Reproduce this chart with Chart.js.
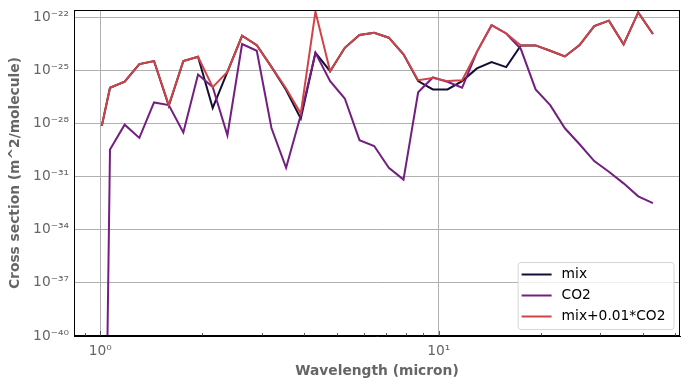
<!DOCTYPE html>
<html>
<head>
<meta charset="utf-8">
<script src="https://cdn.jsdelivr.net/npm/chart.js@4"></script>
<style>
  html, body { margin: 0; padding: 0; background: #fff; }
  canvas { display: block; }
</style>
</head>
<body>
<canvas id="chart1" width="690" height="389"></canvas>
<script>
// wavelength grid (micron)
const wavelength = [1.01, 1.068, 1.180, 1.304, 1.441, 1.593, 1.759, 1.944, 2.148, 2.374,
    2.623, 2.899, 3.203, 3.539, 3.911, 4.321, 4.775, 5.276, 5.830, 6.442,
    7.118, 7.865, 8.690, 9.603, 10.61, 11.72, 12.96, 14.32, 15.82, 17.48,
    19.32, 21.34, 23.58, 26.06, 28.79, 31.81, 35.15, 38.84, 42.92];

const mix = [7.4e-29, 1.05e-26, 2.3e-26, 2.3e-25, 3.4e-25, 1.0e-27, 3.4e-25, 5.9e-25, 7.6e-28, 8.3e-26,
    9.1e-24, 2.7e-24, 1.6e-25, 7.9e-27, 1.9e-28, 1.0e-24, 9.1e-26, 1.9e-24, 1.0e-23, 1.35e-23,
    7.1e-24, 8.1e-25, 2.5e-26, 8.5e-27, 8.5e-27, 2.5e-26, 1.3e-25, 3.0e-25, 1.55e-25, 2.6e-24,
    2.6e-24, 1.3e-24, 6.2e-25, 2.7e-24, 3.2e-23, 6.5e-23, 3.0e-24, 1.9e-22, 1.15e-23];

const co2 = [1e-64, 3.4e-30, 8.7e-29, 1.55e-29, 1.55e-27, 1.1e-27, 3.1e-29, 5.9e-26, 1.17e-26, 2.2e-29,
    3.1e-24, 1.3e-24, 5.6e-29, 3.2e-31, 3.0e-28, 1.0e-24, 2.5e-26, 2.6e-27, 1.15e-29, 5.4e-30,
    3.2e-31, 6.8e-32, 5.8e-27, 4.0e-26, 2.3e-26, 1.05e-26, 1.12e-24, 3.6e-23, 1.23e-23, 1.6e-24,
    8.5e-27, 1.1e-27, 5.4e-29, 6.8e-30, 7.6e-31, 1.9e-31, 4.2e-32, 7.8e-33, 3.2e-33];

const mixPlusCo2 = [7.4e-29, 1.05e-26, 2.3e-26, 2.3e-25, 3.4e-25, 1.1e-27, 3.4e-25, 5.9e-25, 1.15e-26, 8.3e-26,
    9.1e-24, 2.7e-24, 1.6e-25, 9.5e-27, 3.7e-28, 2.1e-22, 9.1e-26, 1.9e-24, 1.0e-23, 1.35e-23,
    7.1e-24, 8.1e-25, 2.8e-26, 3.8e-26, 2.5e-26, 2.8e-26, 1.12e-24, 3.6e-23, 1.23e-23, 2.6e-24,
    2.6e-24, 1.3e-24, 6.2e-25, 2.7e-24, 3.2e-23, 6.5e-23, 3.0e-24, 1.9e-22, 1.15e-23];

const yTicks = [1e-40, 1e-37, 1e-34, 1e-31, 1e-28, 1e-25, 1e-22];
const yTickLabels = ['10⁻⁴⁰', '10⁻³⁷', '10⁻³⁴', '10⁻³¹', '10⁻²⁸', '10⁻²⁵', '10⁻²²'];
const xTicks = [1, 10];
const xTickLabels = ['10⁰', '10¹'];
const xMinorTicks = [0.9, 2, 3, 4, 5, 6, 7, 8, 9, 20, 30, 40, 50];

const FONT = 'DejaVu Sans';
const toPoints = arr => wavelength.map((w, i) => ({ x: w, y: arr[i] }));

// frame on all four sides + inward ticks on the x axis
const frame_plugin = {
    id: 'frame',
    afterDatasetsDraw(chart) {
        const { ctx, chartArea: a, scales } = chart;
        ctx.save();
        ctx.strokeStyle = '#000';
        ctx.lineWidth = 1;
        ctx.strokeRect(Math.round(a.left) + 0.5, Math.round(a.top) + 0.5,
            Math.round(a.right - a.left) - 1, Math.round(a.bottom - a.top) - 1);
        ctx.strokeStyle = '#333';
        ctx.lineWidth = 0.8;
        xMinorTicks.forEach(v => {
            const px = Math.round(scales.x.getPixelForValue(v)) + 0.5;
            ctx.beginPath();
            ctx.moveTo(px, a.bottom);
            ctx.lineTo(px, a.bottom - 3);
            ctx.stroke();
        });
        xTicks.forEach(v => {
            const px = Math.round(scales.x.getPixelForValue(v)) + 0.5;
            ctx.beginPath();
            ctx.moveTo(px, a.bottom);
            ctx.lineTo(px, a.bottom - 5);
            ctx.stroke();
        });
        ctx.restore();
    }
};

// matplotlib-like legend box, bottom right inside the plot
const legend_plugin = {
    id: 'mplLegend',
    afterDraw(chart) {
        const { ctx, chartArea: a } = chart;
        const sets = chart.data.datasets;
        ctx.save();
        ctx.font = '13.8px "' + FONT + '"';
        const maxW = Math.max(...sets.map(d => ctx.measureText(d.label).width));
        const rowH = 21;
        const w = 44 + maxW + 8;
        const h = sets.length * rowH + 4;
        const x0 = a.right - 6.5 - w;
        const y0 = a.bottom - 7 - h;
        ctx.beginPath();
        ctx.roundRect(x0 + 0.5, y0 + 0.5, w, h, 3);
        ctx.fillStyle = 'rgba(255,255,255,0.8)';
        ctx.fill();
        ctx.strokeStyle = '#d6d6d6';
        ctx.lineWidth = 1;
        ctx.stroke();
        sets.forEach((d, i) => {
            const cy = y0 + 12.5 + i * rowH;
            ctx.strokeStyle = d.borderColor;
            ctx.lineWidth = 2;
            ctx.beginPath();
            ctx.moveTo(x0 + 4, cy);
            ctx.lineTo(x0 + 34, cy);
            ctx.stroke();
            ctx.fillStyle = '#000';
            ctx.textBaseline = 'middle';
            ctx.fillText(d.label, x0 + 44, cy);
        });
        ctx.restore();
    }
};

const config1 = {
    type: 'line',
    data: {
        datasets: [
            {
                label: 'mix',
                data: toPoints(mix),
                borderColor: '#140e36',
                borderWidth: 2,
                order: 3
            },
            {
                label: 'CO2',
                data: toPoints(co2),
                borderColor: '#721f81',
                borderWidth: 2,
                order: 2
            },
            {
                label: 'mix+0.01*CO2',
                data: toPoints(mixPlusCo2),
                borderColor: '#cf4446',
                borderWidth: 2,
                order: 1
            }
        ]
    },
    options: {
        responsive: false,
        animation: false,
        devicePixelRatio: 1,
        layout: { padding: { top: 10, right: 10, left: 0, bottom: 0 } },
        elements: {
            point: { radius: 0 },
            line: { tension: 0, fill: false }
        },
        plugins: {
            legend: { display: false },
            tooltip: { enabled: false }
        },
        scales: {
            x: {
                type: 'logarithmic',
                min: 0.836,
                max: 51.6,
                bounds: 'data',
                afterFit: s => { s.height = 53; s.paddingLeft = 0; s.paddingRight = 0; },
                afterBuildTicks: s => { s.ticks = xTicks.map(v => ({ value: v })); },
                grid: { color: '#b0b0b0', lineWidth: 1, drawTicks: false },
                border: { display: true, color: '#000', width: 1 },
                ticks: {
                    autoSkip: false,
                    maxRotation: 0,
                    padding: 7,
                    color: '#666',
                    font: { family: FONT, size: 13.8 },
                    callback: (v, i) => xTickLabels[i]
                },
                title: {
                    display: true,
                    text: 'Wavelength (micron)',
                    color: '#666',
                    font: { family: FONT, size: 13.8, weight: 'bold' },
                    padding: { top: 0, bottom: 9 }
                }
            },
            y: {
                type: 'logarithmic',
                min: 1e-40,
                max: 2.6e-22,
                bounds: 'data',
                afterFit: s => { s.width = 74; s.paddingTop = 0; s.paddingBottom = 0; },
                afterBuildTicks: s => { s.ticks = yTicks.map(v => ({ value: v })); },
                grid: { color: '#b0b0b0', lineWidth: 1, drawTicks: false },
                border: { display: true, color: '#000', width: 1 },
                ticks: {
                    autoSkip: false,
                    padding: 5,
                    color: '#666',
                    font: { family: FONT, size: 13.8 },
                    callback: (v, i) => yTickLabels[i]
                },
                title: {
                    display: true,
                    text: 'Cross section (m^2/molecule)',
                    color: '#666',
                    font: { family: FONT, size: 13.8, weight: 'bold' },
                    padding: { top: 7, bottom: 0 }
                }
            }
        }
    },
    plugins: [frame_plugin, legend_plugin]
};

const myChart1 = new Chart(document.getElementById('chart1'), config1);
</script>
</body>
</html>
